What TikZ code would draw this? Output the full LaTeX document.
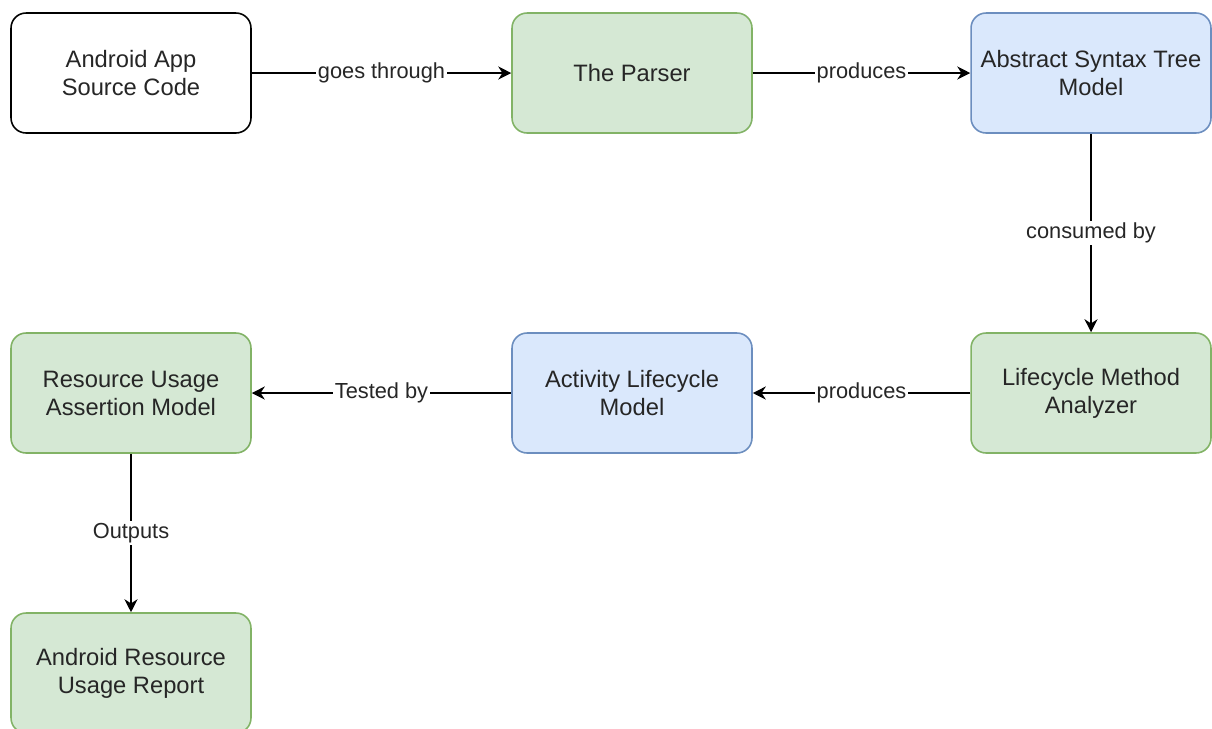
\documentclass[tikz,border=0pt]{standalone}
\usepackage{fontspec}
\setmainfont{Liberation Sans}
\usetikzlibrary{arrows.meta, positioning}
\definecolor{stagefill}{HTML}{D5E8D4}
\definecolor{stagedraw}{HTML}{82B366}
\definecolor{modelfill}{HTML}{DAE8FC}
\definecolor{modeldraw}{HTML}{6C8EBF}

\begin{document}
\begin{tikzpicture}[
    % GLOBAL CFG (one unit = one pixel of the page)
    x=0.02cm, y=-0.02cm,
    font=\fontsize{13.5}{16}\selectfont,
    >={Stealth[length=2.6mm, width=2.6mm]},
    % Styles
    box/.style={% common frame of every box
        rectangle,
        rounded corners=3mm,
        draw,
        line width=0.9pt,
        minimum width=4.8cm,
        minimum height=2.4cm,
        align=center,
        text=black!85,
        },
    plain/.style={% input box
        box,
        fill=white,
        draw=black,
        },
    stage/.style={% processing stages
        box,
        fill=stagefill,
        draw=stagedraw,
        },
    model/.style={% intermediate models
        box,
        fill=modelfill,
        draw=modeldraw,
        },
    edgelabel/.style={% text sitting on an arrow
        fill=white,
        inner sep=1pt,
        text=black!85,
        font=\fontsize{12.4}{14}\selectfont,
        },
    ArrowC1/.style={% plain arrows
        ->,
        line width=1pt,
        },
    ]

    \useasboundingbox (0,0) rectangle (1212,728);

    % Top row
    \node [plain] (source) at (131,73) {Android App\\Source Code};
    \node [stage] (parser) at (632,73) {The Parser};
    \node [model] (ast) at (1091,73) {Abstract Syntax Tree\\Model};

    % Middle row
    \node [stage] (analyzer) at (1091,393) {Lifecycle Method\\Analyzer};
    \node [model] (lifecycle) at (632,393) {Activity Lifecycle\\Model};
    \node [stage] (assertion) at (131,393) {Resource Usage\\Assertion Model};

    % Bottom
    \node [stage] (report) at (131,673) {Android Resource\\Usage Report};

    % Arrows
    \draw [ArrowC1] (source) -- node[edgelabel] {goes through} (parser);
    \draw [ArrowC1] (parser) -- node[edgelabel] {produces} (ast);
    \draw [ArrowC1] (ast) -- node[edgelabel] {consumed by} (analyzer);
    \draw [ArrowC1] (analyzer) -- node[edgelabel] {produces} (lifecycle);
    \draw [ArrowC1] (lifecycle) -- node[edgelabel] {Tested by} (assertion);
    \draw [ArrowC1] (assertion) -- node[edgelabel] {Outputs} (report);
\end{tikzpicture}
\end{document}
